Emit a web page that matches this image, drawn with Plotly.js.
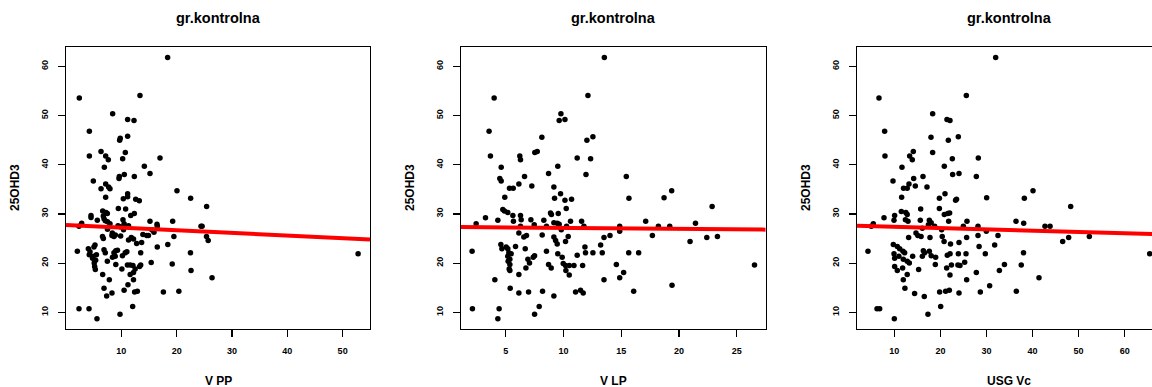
<!DOCTYPE html>
<html>
<head>
<meta charset="utf-8">
<script src="https://cdn.plot.ly/plotly-3.0.1.min.js"></script>
<style>html,body{margin:0;padding:0;background:#fff;}#chart{width:1152px;height:387px;}</style>
</head>
<body>
<div id="chart"></div>
<script>
// ---- data ----
const panelTitles = ['gr.kontrolna', 'gr.kontrolna', 'gr.kontrolna'];
const xTitles = ['V PP', 'V LP', 'USG Vc'];
const yTitle = '25OHD3';
const yTicks = [10, 20, 30, 40, 50, 60];
const xTicks1 = [10, 20, 30, 40, 50];
const xTicks2 = [5, 10, 15, 20, 25];
const xTicks3 = [10, 20, 30, 40, 50, 60];

// panel 1: V PP vs 25OHD3
const p1x = [18.37,2.41,13.37,8.43,11.14,12.29,4.22,9.8,9.7,11.14,4.22,6.33,7.17,7.65,10.72,10.24,16.99,6.93,14.16,4.94,9.64,9.58,10.54,12.35,15.18,6.33,7.17,7.7,7.95,7.17,11.14,11.14,10.36,12.6,13.25,20.06,22.53,25.42,9.46,10.78,4.52,4.52,6.63,7.23,7.47,6.75,6.87,5.66,7.1,7.5,7.95,12.35,11.7,10.3,10.5,11.3,2.83,2.35,15.18,16.45,16.5,19.28,24.4,24.6,14.6,14.9,15.5,15.9,8.37,8.67,8.92,6.6,6.75,9.88,10.4,11.8,12.2,13.67,12.77,11.3,19.5,25.4,25.7,2.05,4.04,4.34,4.2,5.24,5.05,5.5,4.9,4.8,5.36,5.1,5.18,5.3,6.87,7.1,8.67,9.0,9.3,8.4,8.9,10.2,10.7,11.0,9.0,7.47,11.1,11.6,12.1,13.5,13.3,12.5,12.2,10.1,11.6,6.63,7.83,11.2,12.2,6.87,7.35,8.31,10.5,12.4,12.9,12.05,9.76,5.6,2.35,4.16,13.5,15.4,16.5,18.4,19.2,22.5,22.6,26.4,17.6,20.4,52.8,9.4,9.8,13.9,8.3,7.5];
const p1y = [61.8,53.6,54.1,50.4,49.2,49.0,46.8,45.4,45.0,45.8,41.8,42.7,41.8,41.0,42.5,41.2,41.4,39.5,39.7,36.7,37.6,37.2,38.0,37.6,38.2,35.1,36.1,35.5,35.1,33.4,34.1,33.5,33.1,33.0,32.7,34.7,33.2,31.5,31.1,31.0,29.7,29.3,30.6,30.3,30.1,29.6,29.0,28.7,28.6,28.4,28.0,30.1,29.7,28.8,28.0,27.6,28.1,27.5,28.5,27.9,27.5,28.5,27.5,27.5,25.6,25.6,26.8,26.3,26.1,25.4,25.7,25.4,25.0,25.5,26.8,25.2,24.9,24.2,24.0,24.7,25.4,25.4,24.6,22.4,22.9,22.3,21.7,23.7,23.3,21.7,21.4,21.0,20.6,20.0,19.3,18.7,22.7,22.1,22.1,22.5,22.6,21.2,21.4,21.5,22.1,22.3,19.7,20.4,19.6,19.6,19.5,19.6,19.3,18.8,18.1,18.8,17.7,17.7,16.6,15.6,16.6,14.9,13.3,13.9,14.5,14.1,14.3,11.2,9.6,8.7,10.7,10.7,22.1,20.1,23.3,23.8,19.8,22.1,18.5,17.0,14.1,14.3,21.9,27.6,27.4,25.8,25.6,26.9];

// panel 2: V LP vs 25OHD3
const p2x = [13.53,3.99,12.11,9.77,9.62,10.12,3.55,8.12,12.54,12.02,3.67,6.21,6.27,7.51,7.72,11.18,12.34,4.6,9.5,8.7,11.94,15.43,6.62,4.48,4.6,6.13,7.25,5.32,5.64,9.16,4.91,9.22,9.74,10.12,10.69,15.66,18.7,19.36,22.86,10.23,3.24,4.74,4.88,5.17,5.61,6.27,5.66,6.33,8.87,8.95,9.54,4.31,2.43,7.17,7.46,8.29,8.52,9.16,9.45,9.62,10.6,11.56,11.76,9.8,10.26,17.11,18.21,19.19,21.42,14.86,14.86,6.27,6.13,6.56,6.79,8.15,9.16,9.31,10.17,10.4,9.45,13.5,14.02,17.69,20.95,22.4,23.32,2.08,4.57,4.66,5.03,5.17,5.26,5.46,5.17,5.35,5.2,5.35,5.29,5.35,5.84,6.68,6.91,7.05,6.74,7.37,7.49,8.52,8.7,8.93,9.5,9.88,9.97,10.17,10.2,10.49,10.49,10.9,11.18,11.65,11.85,11.9,12.54,13.21,13.35,15.64,16.5,14.57,15.2,14.86,13.5,4.05,6.13,5.38,6.13,6.97,8.18,9.16,11.04,11.47,11.7,16.07,19.39,26.53,2.11,4.42,4.31,7.89,7.49];
const p2y = [61.8,53.6,54.1,50.4,49.0,49.2,46.8,45.6,45.7,45.0,41.8,41.8,41.0,42.5,42.7,41.4,41.2,39.5,39.7,38.2,38.0,37.6,37.6,37.2,36.7,36.1,35.7,35.2,35.2,35.5,33.4,33.2,34.1,32.8,33.0,33.2,33.3,34.7,31.5,31.1,29.2,30.9,30.6,30.3,29.7,29.7,28.5,28.8,30.2,29.9,30.1,28.7,28.0,28.8,27.8,28.7,27.5,28.2,28.1,27.9,28.5,28.5,27.5,26.8,27.5,28.5,27.5,27.5,28.1,27.5,26.5,27.5,26.1,25.3,25.6,25.7,25.3,24.6,24.4,25.4,23.9,25.2,25.6,25.6,24.4,25.2,25.4,22.4,23.8,22.9,23.3,22.9,22.1,21.9,21.4,20.8,20.4,19.7,18.8,18.5,23.4,22.9,20.8,20.0,19.0,21.2,21.5,22.4,19.7,19.0,21.9,21.2,19.9,19.5,18.5,17.6,19.5,19.5,21.6,19.5,23.3,22.1,22.1,23.7,22.1,22.1,22.1,19.7,18.1,17.0,16.6,16.6,17.7,14.9,13.9,14.1,14.3,13.3,14.1,14.5,13.9,14.3,15.5,19.6,10.7,10.7,8.7,11.2,9.6];

// panel 3: USG Vc vs 25OHD3
const p3x = [32.0,6.67,25.63,18.32,21.43,22.08,7.9,17.96,23.89,21.72,7.97,13.33,14.12,13.9,18.32,28.23,22.59,11.66,20.85,14.2,14.56,16.22,9.71,17.09,22.66,24.04,27.8,12.0,12.8,13.18,11.59,19.78,21.0,23.3,23.5,30.04,38.22,40.1,48.28,19.78,15.72,10.07,7.76,11.52,12.5,12.8,12.4,12.97,20.85,21.6,22.0,9.93,5.44,5.0,15.64,17.6,18.0,17.4,18.76,21.79,25.77,24.98,28.16,29.97,36.41,38.08,42.7,43.8,20.27,16.08,14.7,15.1,15.8,13.11,17.74,20.4,20.8,24.04,25.7,28.16,32.5,46.54,47.84,52.33,4.28,9.78,10.65,11.16,11.88,12.24,9.93,10.07,11.0,11.95,12.8,13.26,10.07,10.65,11.8,11.95,12.8,12.3,13.98,15.28,16.08,16.58,16.3,17.6,18.0,18.97,18.9,21.5,22.1,22.2,21.36,22.08,22.4,23.8,24.25,23.9,25.27,25.56,25.7,27.8,28.4,29.75,31.78,32.8,33.9,37.55,38.04,41.4,14.4,16.5,19.84,21.14,21.94,24.04,28.67,30.69,36.48,6.24,6.82,10.0,20.06,17.3,65.43];
const p3y = [61.8,53.6,54.1,50.4,49.2,49.0,46.8,45.6,45.7,45.0,41.8,41.8,42.7,41.0,42.5,41.4,41.2,39.5,39.7,37.2,35.7,37.6,36.7,35.5,38.0,38.2,37.6,35.2,35.2,36.1,33.4,33.2,34.1,32.8,33.0,33.3,33.2,34.7,31.5,31.1,31.0,29.7,29.2,30.5,30.3,29.9,28.8,28.5,29.9,30.1,30.2,28.7,28.0,27.5,28.7,28.7,28.2,27.8,27.5,28.5,28.5,27.5,27.5,26.5,28.5,28.1,27.5,27.5,26.8,27.1,26.1,25.6,25.4,25.2,25.2,25.4,24.4,24.2,25.2,25.6,25.6,24.4,25.2,25.4,22.4,23.8,23.4,22.9,22.4,22.1,21.9,21.0,21.4,20.8,20.4,20.0,19.3,18.5,19.0,16.6,17.7,14.9,21.4,18.7,21.4,22.1,22.5,22.4,21.5,21.2,19.7,21.6,21.9,23.9,19.0,17.6,19.6,19.6,19.5,21.9,20.2,21.9,16.6,18.1,23.4,21.9,23.7,18.5,19.7,19.6,22.1,17.0,13.8,13.2,14.1,14.3,14.5,13.9,14.1,15.4,14.3,10.7,10.7,8.7,11.2,9.6,21.9];

// least-squares lines
const fitIntercept = [27.76, 27.37, 27.66];
const fitSlope = [-0.054, -0.0204, -0.0263];

// ---- layout geometry (pixels) ----
const W = 1152, H = 387;
const boxTop = 47, boxBottom = 329;
const boxes = [ {l: 66, r: 370}, {l: 461, r: 765.7}, {l: 857, r: 1161} ];
const xRanges = [[0.0, 54.95], [1.12, 27.5], [1.9, 65.93]];
const yRange = [6.6, 63.95];

const FONT = 'Liberation Sans, Arial, Helvetica, sans-serif';
const xs = [p1x, p2x, p3x], ys = [p1y, p2y, p3y];
const xTickSets = [xTicks1, xTicks2, xTicks3];

const traces = [];
const layout = {
  width: W, height: H,
  margin: {l: 0, r: 0, t: 0, b: 0},
  paper_bgcolor: '#fff', plot_bgcolor: '#fff',
  showlegend: false,
  font: {family: FONT, color: '#000'},
  annotations: []
};

for (let i = 0; i < 3; i++) {
  const sfx = i === 0 ? '' : String(i + 1);
  const b = boxes[i];
  const right = Math.min(b.r, W);
  const xr = xRanges[i];
  traces.push({
    type: 'scatter', mode: 'markers', x: xs[i], y: ys[i],
    xaxis: 'x' + sfx, yaxis: 'y' + sfx,
    marker: {color: '#000', size: 5.5, line: {width: 0}},
    cliponaxis: false, hoverinfo: 'skip'
  });
  traces.push({
    type: 'scatter', mode: 'lines',
    x: [xr[0], xr[1]],
    y: [fitIntercept[i] + fitSlope[i] * xr[0], fitIntercept[i] + fitSlope[i] * xr[1]],
    xaxis: 'x' + sfx, yaxis: 'y' + sfx,
    line: {color: '#ff0000', width: 4}, hoverinfo: 'skip'
  });
  layout['xaxis' + sfx] = {
    domain: [b.l / W, right / W], range: xr, anchor: 'y' + sfx,
    showgrid: false, zeroline: false,
    showline: true, mirror: true, linecolor: '#000', linewidth: 1.3,
    ticks: 'outside', ticklen: 7, tickwidth: 1.2, tickcolor: '#000',
    tickmode: 'array', tickvals: xTickSets[i], ticktext: xTickSets[i].map(String),
    tickfont: {family: FONT, size: 9, color: '#000', weight: 'bold'},
    ticklabelstandoff: 6, fixedrange: true
  };
  layout['yaxis' + sfx] = {
    domain: [1 - boxBottom / H, 1 - boxTop / H], range: yRange, anchor: 'x' + sfx,
    showgrid: false, zeroline: false,
    showline: true, mirror: i < 2 ? true : false, linecolor: '#000', linewidth: 1.3,
    ticks: 'outside', ticklen: 7, tickwidth: 1.2, tickcolor: '#000',
    tickmode: 'array', tickvals: yTicks, ticktext: yTicks.map(String), tickangle: -90,
    tickfont: {family: FONT, size: 9, color: '#000', weight: 'bold'},
    ticklabelstandoff: 6, fixedrange: true
  };
  const cx = (b.l + b.r) / 2;
  layout.annotations.push({
    xref: 'paper', yref: 'paper', x: cx / W, y: 1 - 18.3 / H,
    xanchor: 'center', yanchor: 'middle', showarrow: false,
    text: '<b>' + panelTitles[i] + '</b>', font: {family: FONT, size: 14.5, color: '#000'}
  });
  layout.annotations.push({
    xref: 'paper', yref: 'paper', x: cx / W, y: 1 - 380.5 / H,
    xanchor: 'center', yanchor: 'middle', showarrow: false,
    text: '<b>' + xTitles[i] + '</b>', font: {family: FONT, size: 12, color: '#000'}
  });
  layout.annotations.push({
    xref: 'paper', yref: 'paper', x: (b.l - 51) / W, y: 1 - ((boxTop + boxBottom) / 2) / H,
    xanchor: 'center', yanchor: 'middle', showarrow: false, textangle: -90,
    text: '<b>' + yTitle + '</b>', font: {family: FONT, size: 12, color: '#000'}
  });
}

Plotly.newPlot('chart', traces, layout, {staticPlot: true, displayModeBar: false});
</script>
</body>
</html>
